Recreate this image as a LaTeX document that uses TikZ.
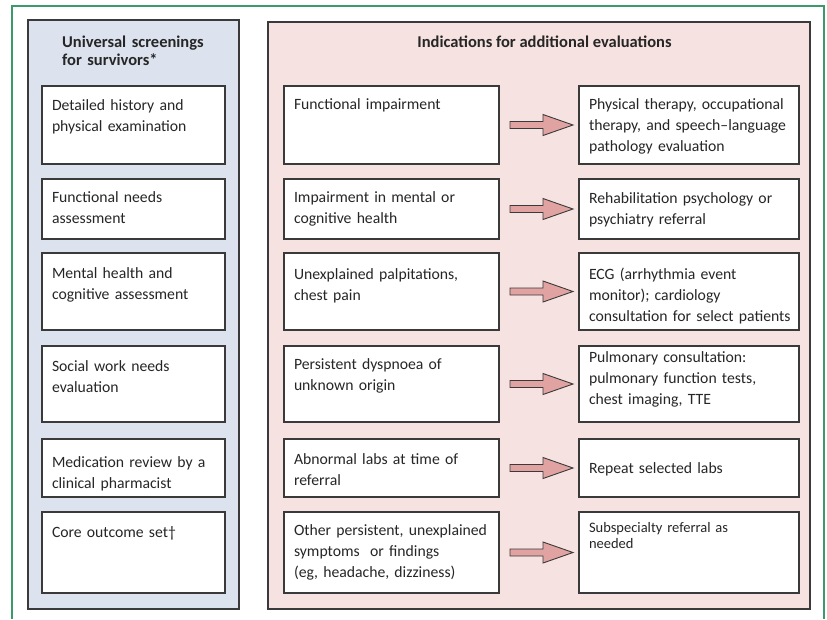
\documentclass[tikz,border=0pt]{standalone}
\usepackage{fontspec}
\setmainfont{Carlito}
\usetikzlibrary{calc}

\definecolor{framegreen}{HTML}{3A9A6A}
\definecolor{screenblue}{HTML}{DCE3EE}
\definecolor{indicpink}{HTML}{F6E2E0}
\definecolor{arrowpink}{HTML}{E0A3A1}
\definecolor{boxline}{HTML}{3A3A3A}
\definecolor{inkgray}{HTML}{262626}

\begin{document}
\begin{tikzpicture}[
  x = 1pt, y = -1pt,
  every node/.style = {text=inkgray, font=\fontsize{15.7}{21}\selectfont},
  panel/.style = {draw=boxline, line width=1.1pt},
  head/.style = {font=\fontsize{16.5}{18}\selectfont\bfseries, inner sep=0pt},
  cell/.style = {draw=boxline, fill=white, line width=1.1pt, anchor=north west,
                 outer sep=0pt, inner xsep=10pt, inner ysep=0pt, align=left},
  lcell/.style = {cell, text width=163pt},
  mcell/.style = {cell, text width=195pt},
  rcell/.style = {cell, text width=200pt},
  bigarrow/.style = {fill=arrowpink, draw=boxline, line width=0.9pt},
  ]
  \useasboundingbox (0,0) rectangle (827,619);
  \draw[framegreen, line width=1.4pt] (12,619) -- (12,6) -- (824,6) -- (824,619);

  % the two panels
  \draw[panel, fill=screenblue] (28,20) rectangle (239,609);
  \draw[panel, fill=indicpink] (268,22) rectangle (810,609);
  \node[head, anchor=base west, text width=170pt, align=left] (lhead) at (62,47)
    {Universal screenings\\for survivors*};
  \node[head, anchor=base] (rhead) at (544.5,47) {Indications for additional evaluations};

  % universal screenings
  \node[lcell, text height=24pt, text depth=54pt] (l1) at (42,86)
    {Detailed history and\\physical examination};
  \node[lcell, text height=23pt, text depth=37pt] (l2) at (42,179)
    {Functional needs\\assessment};
  \node[lcell, text height=25pt, text depth=52pt] (l3) at (42,253)
    {Mental health and\\cognitive assessment};
  \node[lcell, text height=25pt, text depth=51pt] (l4) at (42,346)
    {Social work needs\\evaluation};
  \node[lcell, text height=28pt, text depth=30pt] (l5) at (42,439)
    {Medication review by a\\clinical pharmacist};
  \node[lcell, text height=25pt, text depth=56pt] (l6) at (42,512)
    {Core outcome set\textdagger};

  % indications
  \node[mcell, text height=23pt, text depth=55pt] (m1) at (284,86)
    {Functional impairment};
  \node[mcell, text height=23pt, text depth=37pt] (m2) at (284,179)
    {Impairment in mental or\\cognitive health};
  \node[mcell, text height=26pt, text depth=51pt] (m3) at (284,253)
    {Unexplained palpitations,\\chest pain};
  \node[mcell, text height=23pt, text depth=53pt] (m4) at (284,346)
    {Persistent dyspnoea of\\unknown origin};
  \node[mcell, text height=25pt, text depth=33pt] (m5) at (284,439)
    {Abnormal labs at time of\\referral};
  \node[mcell, text height=23pt, text depth=58pt] (m6) at (284,512)
    {\mbox{Other persistent, unexplained}\\symptoms\ \ or findings\\(eg, headache, dizziness)};

  % additional evaluations
  \node[rcell, text height=23pt, text depth=55pt] (r1) at (579,86)
    {\mbox{Physical therapy, occupational}\\\mbox{therapy, and speech--language}\\pathology evaluation};
  \node[rcell, text height=24pt, text depth=36pt] (r2) at (579,179)
    {Rehabilitation psychology or\\psychiatry referral};
  \node[rcell, text height=26pt, text depth=51pt] (r3) at (579,253)
    {ECG (arrhythmia event\\monitor); cardiology\\\mbox{consultation for select patients}};
  \node[rcell, text height=16pt, text depth=60pt] (r4) at (579,346)
    {Pulmonary consultation:\\pulmonary function tests,\\chest imaging, TTE};
  \node[rcell, text height=34pt, text depth=24pt] (r5) at (579,439)
    {Repeat selected labs};
  \node[rcell, text height=20pt, text depth=61pt, font=\fontsize{14.5}{16}\selectfont] (r6) at (579,512)
    {Subspecialty referral as\\needed};

  % arrows
  \foreach \i in {1,...,6}
    \draw[bigarrow] ($(m\i.east)+(11,-3.5)$) -- ++(33,0) -- ++(0,-7)
      -- ($(r\i.west)+(-6,0)$) -- ++(-30,10.5) -- ++(0,-7) -- ++(-33,0) -- cycle;
\end{tikzpicture}
\end{document}
